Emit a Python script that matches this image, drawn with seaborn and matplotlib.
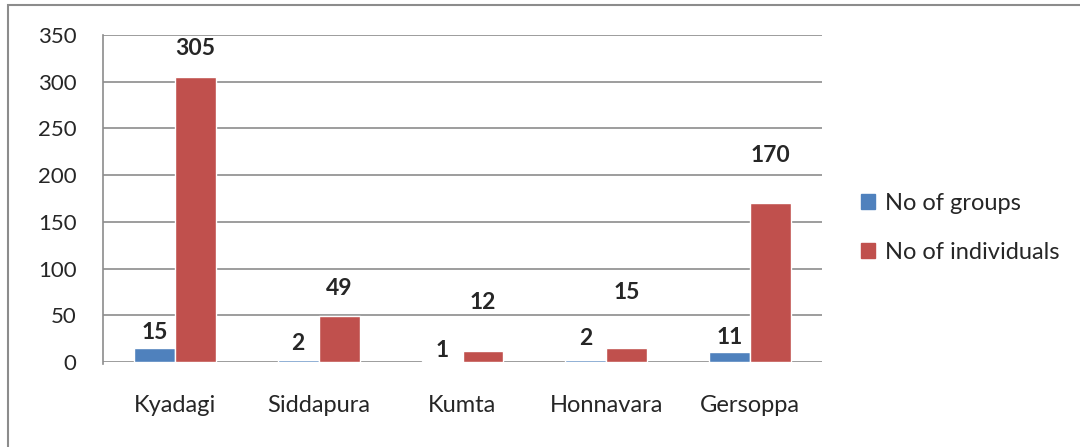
import pandas as pd
import matplotlib.pyplot as plt
import seaborn as sns
from matplotlib.patches import Rectangle

# chart data
places = ["Kyadagi", "Siddapura", "Kumta", "Honnavara", "Gersoppa"]
groups = [15, 2, 1, 2, 11]
individuals = [305, 49, 12, 15, 170]
series_names = ["No of groups", "No of individuals"]

df = pd.DataFrame({
    "Place": places * 2,
    "Series": [series_names[0]] * len(places) + [series_names[1]] * len(places),
    "Count": groups + individuals,
})

sns.set_style("white")
plt.rcParams["font.family"] = ["Lato", "DejaVu Sans"]

fig = plt.figure(figsize=(10.8, 4.47), dpi=100)
ax = fig.add_axes([103 / 1080, 85 / 447, 719 / 1080, 327 / 447])

colors = {series_names[0]: "#4f81bd", series_names[1]: "#c0504d"}
sns.barplot(data=df, x="Place", y="Count", hue="Series", palette=colors,
            width=0.57, saturation=1, gap=0, ax=ax, legend=False)

# label offsets above each bar (pixels), as placed in the original
blue_off = [15, 17, 11, 22, 14]
red_off = [29, 28, 48, 55, 48]
for cont, offs in zip(ax.containers, [blue_off, red_off]):
    for bar, off in zip(cont, offs):
        h = bar.get_height()
        ax.annotate(f"{int(h)}", (bar.get_x() + bar.get_width() / 2, h),
                    xytext=(0, off), textcoords="offset pixels",
                    ha="center", va="center", fontsize=16.5, fontweight="bold")

ax.set_ylim(0, 350)
ax.set_xlim(-0.5, 4.5)
ax.set_yticks(range(0, 351, 50))
ax.yaxis.grid(True, color="#8c8c8c", linewidth=1.2)
ax.set_axisbelow(True)
ax.set_xlabel("")
ax.set_ylabel("")

for s in ["top", "right", "bottom"]:
    ax.spines[s].set_visible(False)
ax.spines["left"].set_color("#8c8c8c")
ax.spines["left"].set_linewidth(1.2)
ax.spines["left"].set_bounds(-2.5, 350)
ax.set_ylim(0, 350)

ax.tick_params(axis="y", length=6, width=1.2, color="#8c8c8c", pad=13, labelsize=16)
ax.tick_params(axis="x", which="major", length=0, pad=24, labelsize=17)
ax.set_xticks([i - 0.5 for i in range(6)], minor=True)
ax.tick_params(axis="x", which="minor", length=6, width=1.2, color="#8c8c8c")

# legend on the right
handles = [Rectangle((0, 0), 1, 1, color=colors[n]) for n in series_names]
ax.legend(handles, series_names, loc="center left", bbox_to_anchor=(1.025, 0.41),
          frameon=False, fontsize=17, handlelength=0.6, handleheight=0.6,
          handletextpad=0.4, labelspacing=1.2)

# outer chart border
fig.patches.append(Rectangle((8 / 1080, -0.1), 1.2, (447 - 5) / 447 + 0.1,
                             transform=fig.transFigure, fill=False,
                             edgecolor="#8c8c8c", linewidth=1.5))

fig.savefig("out.png", dpi=100)
